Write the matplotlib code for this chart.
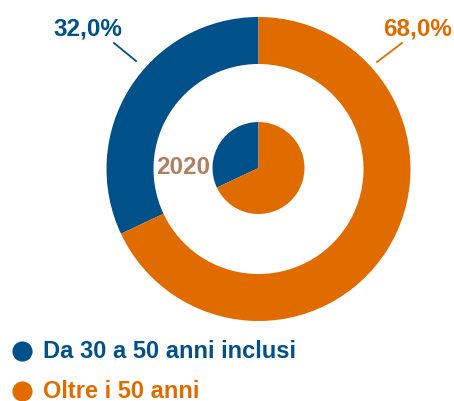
import matplotlib
matplotlib.use("Agg")
import matplotlib.pyplot as plt

plt.rcParams['font.family'] = ['Liberation Sans', 'DejaVu Sans']

categories = ["Da 30 a 50 anni inclusi", "Oltre i 50 anni"]
values = [32.0, 68.0]
pct_labels = ["32,0%", "68,0%"]
year_label = "2020"
colors = ["#00508a", "#e06c00"]
year_color = "#b07f5f"

W, H = 454, 401
fig = plt.figure(figsize=(W / 100, H / 100), dpi=100)
ax = fig.add_axes([0, 0, 1, 1])
ax.set_xlim(0, W)
ax.set_ylim(0, H)
ax.set_aspect("equal")
ax.axis("off")

cx, cy = 258.5, H - 169

# outer ring
ax.pie(values, colors=colors, startangle=90, counterclock=True,
       radius=152, center=(cx, cy),
       wedgeprops=dict(width=47, linewidth=0))
# inner small pie
ax.pie(values, colors=colors, startangle=90, counterclock=True,
       radius=46, center=(cx, H - 168),
       wedgeprops=dict(linewidth=0))
ax.set_xlim(0, W)
ax.set_ylim(0, H)

# percentage labels with leader lines
ax.text(88, H - 29, pct_labels[0], color=colors[0], fontsize=17.5,
        fontweight="bold", ha="center", va="center")
ax.plot([114, 136], [H - 43, H - 61], color=colors[0], lw=1.3)
ax.text(418, H - 29, pct_labels[1], color=colors[1], fontsize=17.5,
        fontweight="bold", ha="center", va="center")
ax.plot([402, 377], [H - 43, H - 62], color=colors[1], lw=1.3)

ax.text(183, H - 168, year_label, color=year_color, fontsize=17.5,
        fontweight="bold", ha="center", va="center")

# legend
for i, (cat, col) in enumerate(zip(categories, colors)):
    y = H - (351 + 40 * i)
    ax.plot(22, y, "o", color=col, markersize=13.5)
    ax.text(43, y, cat, color=col, fontsize=17, fontweight="bold",
            ha="left", va="center")

fig.savefig("out.png", dpi=100)
